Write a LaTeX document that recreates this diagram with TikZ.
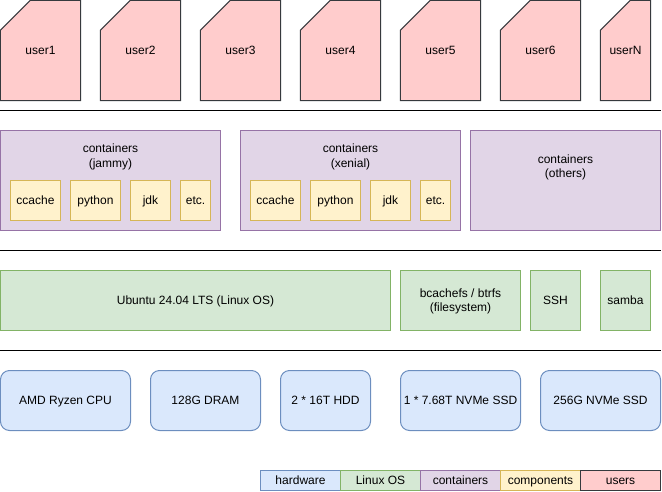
\documentclass[tikz,border=0pt]{standalone}
\usepackage{fontspec}
\setmainfont{Liberation Sans}
\usetikzlibrary{calc,backgrounds}
\definecolor{hwF}{HTML}{DAE8FC}\definecolor{hwS}{HTML}{6C8EBF}
\definecolor{osF}{HTML}{D5E8D4}\definecolor{osS}{HTML}{82B366}
\definecolor{ctF}{HTML}{E1D5E7}\definecolor{ctS}{HTML}{9673A6}
\definecolor{cpF}{HTML}{FFF2CC}\definecolor{cpS}{HTML}{D6B656}
\definecolor{usF}{HTML}{FFCCCC}\definecolor{usS}{HTML}{36393D}
\begin{document}
\begin{tikzpicture}[x=1pt,y=-1pt,
  base/.style={draw, line width=1pt, inner sep=0pt, align=center, font=\fontsize{12}{14.4}\selectfont, text=black, text height=11pt, text depth=2.6pt},
  txt/.style={inner sep=0pt, align=center, font=\fontsize{12}{14.4}\selectfont, text=black, text height=11pt, text depth=2.6pt},
  multi/.style={text height=, text depth=},
  hw/.style={base, fill=hwF, draw=hwS, rounded corners=9pt, minimum height=60pt},
  os/.style={base, fill=osF, draw=osS, minimum height=60pt},
  ct/.style={base, fill=ctF, draw=ctS, minimum height=100pt},
  cp/.style={base, fill=cpF, draw=cpS, minimum height=40pt},
  lg/.style={base, minimum width=80pt, minimum height=20pt},
  usershape/.style={fill=usF, draw=usS, line width=1pt, line join=miter},
  sep/.style={draw=black, line width=1pt}]
\useasboundingbox (-0.5,-0.5) rectangle (661.5,490.5);

% users
\foreach \n/\cx/\w/\t in {u1/40/80/user1, u2/140/80/user2, u3/240/80/user3, u4/340/80/user4, u5/440/80/user5, u6/540/80/user6, uN/625/50/userN}{
  \node[txt, minimum width=\w pt, minimum height=100pt] (\n) at (\cx,50) {\t};
  \begin{scope}[on background layer]
    \draw[usershape] ($(\n.north west)+(30,0)$) -- (\n.north east) -- (\n.south east) -- (\n.south west) -- ($(\n.north west)+(0,30)$) -- cycle;
  \end{scope}
}

% separators
\coordinate (s1a) at (0,110); \coordinate (s1b) at (660,110);
\coordinate (s2a) at (0,250); \coordinate (s2b) at (660,250);
\coordinate (s3a) at (0,350); \coordinate (s3b) at (660,350);
\draw[sep] (s1a) -- (s1b);
\draw[sep] (s2a) -- (s2b);
\draw[sep] (s3a) -- (s3b);

% containers
\node[ct, minimum width=220pt] (cj) at (110,180) {};
\node[txt, multi] (cjt) at (110,156.5) {containers\\(jammy)};
\node[ct, minimum width=220pt] (cx) at (350,180) {};
\node[txt, multi] (cxt) at (350,156.5) {containers\\(xenial)};
\node[ct, minimum width=190pt] (co) at (565,180) {};
\node[txt, multi] (cot) at (565,167) {containers\\(others)};

% components
\node[cp, minimum width=50pt] (j1) at (35,200) {ccache};
\node[cp, minimum width=50pt] (j2) at (95,200) {python};
\node[cp, minimum width=40pt] (j3) at (150,200) {jdk};
\node[cp, minimum width=30pt] (j4) at (195,200) {etc.};
\node[cp, minimum width=50pt] (x1) at (275,200) {ccache};
\node[cp, minimum width=50pt] (x2) at (335,200) {python};
\node[cp, minimum width=40pt] (x3) at (390,200) {jdk};
\node[cp, minimum width=30pt] (x4) at (435,200) {etc.};

% linux os
\node[os, minimum width=390pt] (ub) at (195,300) {Ubuntu 24.04 LTS (Linux OS)};
\node[os, minimum width=120pt] (fs) at (460,300) {};
\node[txt, multi] (fst) at (460,301) {bcachefs / btrfs\\(filesystem)};
\node[os, minimum width=50pt] (ssh) at (555,300) {SSH};
\node[os, minimum width=50pt] (smb) at (625,300) {samba};

% hardware
\node[hw, minimum width=130pt] (cpu) at (65,400) {AMD Ryzen CPU};
\node[hw, minimum width=110pt] (ram) at (205,400) {128G DRAM};
\node[hw, minimum width=90pt] (hdd) at (325,400) {2 * 16T HDD};
\node[hw, minimum width=120pt] (nv1) at (460,400) {1 * 7.68T NVMe SSD};
\node[hw, minimum width=120pt] (nv2) at (600,400) {256G NVMe SSD};

% legend
\node[lg, fill=hwF, draw=hwS] (lhw) at (300,480) {hardware};
\node[lg, fill=osF, draw=osS] (los) at (380,480) {Linux OS};
\node[lg, fill=ctF, draw=ctS] (lct) at (460,480) {containers};
\node[lg, fill=cpF, draw=cpS] (lcp) at (540,480) {components};
\node[lg, fill=usF, draw=usS] (lus) at (620,480) {users};
\end{tikzpicture}
\end{document}
